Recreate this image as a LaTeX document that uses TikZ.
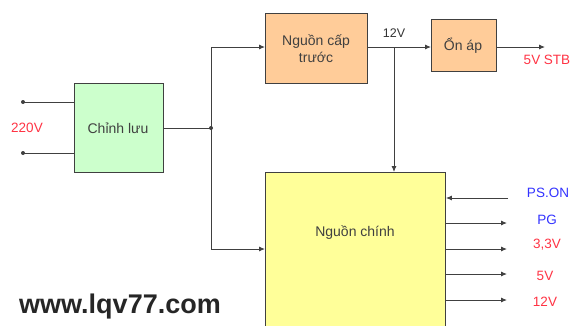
\documentclass[tikz,border=0pt]{standalone}
\usepackage{fontspec}
\setmainfont{Liberation Sans}
\usetikzlibrary{arrows.meta}
\definecolor{boxgreen}{HTML}{CCFFCC}
\definecolor{boxorange}{HTML}{FFCC99}
\definecolor{boxyellow}{HTML}{FFFF99}
\definecolor{linegray}{HTML}{404040}
\definecolor{lblred}{HTML}{FF3344}
\definecolor{lblblue}{HTML}{3333FF}
\tikzset{
  blk/.style={draw=linegray, line width=0.9pt, inner sep=0pt, anchor=north west},
  wire/.style={draw=linegray, line width=0.9pt},
  arr/.style={wire, -{Latex[length=6pt,width=5pt]}},
  dotc/.style={circle, fill=linegray, inner sep=0pt, minimum size=4pt},
  boxtxt/.style={font=\fontsize{14}{16}\selectfont, text=black!75, align=center},
  redlbl/.style={font=\fontsize{13.5}{15}\selectfont, text=lblred},
  bluelbl/.style={font=\fontsize{13.5}{15}\selectfont, text=lblblue},
}
\begin{document}
\begin{tikzpicture}[x=1pt,y=-1pt]
\clip (0,0) rectangle (571,325);
\fill[white] (0,0) rectangle (571,325);
% boxes
\node[blk, fill=boxgreen, minimum width=89pt, minimum height=89pt] (cl) at (74,83) {};
\node[blk, fill=boxorange, minimum width=102pt, minimum height=70pt] (nct) at (265,13) {};
\node[blk, fill=boxorange, minimum width=65pt, minimum height=52pt] (oa) at (431,19) {};
\node[blk, fill=boxyellow, minimum width=180pt, minimum height=160pt] (nc) at (265,172) {};
% box texts
\node[boxtxt] (tcl) at (118,128) {Chỉnh lưu};
\node[boxtxt, font=\fontsize{14}{17}\selectfont] (tnct) at (316,49) {Nguồn cấp\\trước};
\node[boxtxt] (toa) at (463,46) {Ổn áp};
\node[boxtxt] (tnc) at (355,233) {Nguồn chính};
% input
\coordinate (in1) at (23,102);
\coordinate (in2) at (23,153);
\node[dotc] (d1) at (in1) {};
\node[dotc] (d2) at (in2) {};
\draw[wire] (in1) -- (in1 -| cl.west);
\draw[wire] (in2) -- (in2 -| cl.west);
\node[redlbl] (l220) at (27,128) {220V};
% rectifier output
\coordinate (j1) at (211,128);
\node[dotc] (dj1) at (j1) {};
\draw[wire] (cl.east |- j1) -- (j1);
\coordinate (j1t) at (211,47);
\coordinate (j1b) at (211,249);
\draw[wire] (j1t) -- (j1b);
\draw[arr] (j1t) -- (j1t -| nct.west);
\draw[arr] (j1b) -- (j1b -| nc.west);
% standby path
\coordinate (j2) at (394,47);
\draw[wire] (nct.east |- j2) -- (j2);
\draw[arr] (j2) -- (j2 -| oa.west);
\draw[arr] (j2) -- (j2 |- nc.north);
\node[font=\fontsize{12.5}{14}\selectfont, text=black!80] (l12) at (394,33) {12V};
\coordinate (stb) at (545,47);
\draw[arr] (oa.east |- stb) -- (stb);
\node[redlbl] (lstb) at (547,60) {5V STB};
% main outputs
\coordinate (ps) at (508,198);
\draw[arr] (ps) -- (ps -| nc.east);
\node[bluelbl] (lps) at (548,193) {PS.ON};
\coordinate (pg) at (507,223);
\draw[arr] (pg -| nc.east) -- (pg);
\node[bluelbl] (lpg) at (547,220) {PG};
\coordinate (o33) at (507,249);
\draw[arr] (o33 -| nc.east) -- (o33);
\node[redlbl] (l33) at (547,245) {3,3V};
\coordinate (o5) at (507,274);
\draw[arr] (o5 -| nc.east) -- (o5);
\node[redlbl] (l5) at (545,276) {5V};
\coordinate (o12) at (507,300);
\draw[arr] (o12 -| nc.east) -- (o12);
\node[redlbl] (l12b) at (545,302) {12V};
% website
\node[font=\bfseries\fontsize{27}{30}\selectfont, text=black!85] (web) at (120,307) {www.lqv77.com};
\end{tikzpicture}
\end{document}
